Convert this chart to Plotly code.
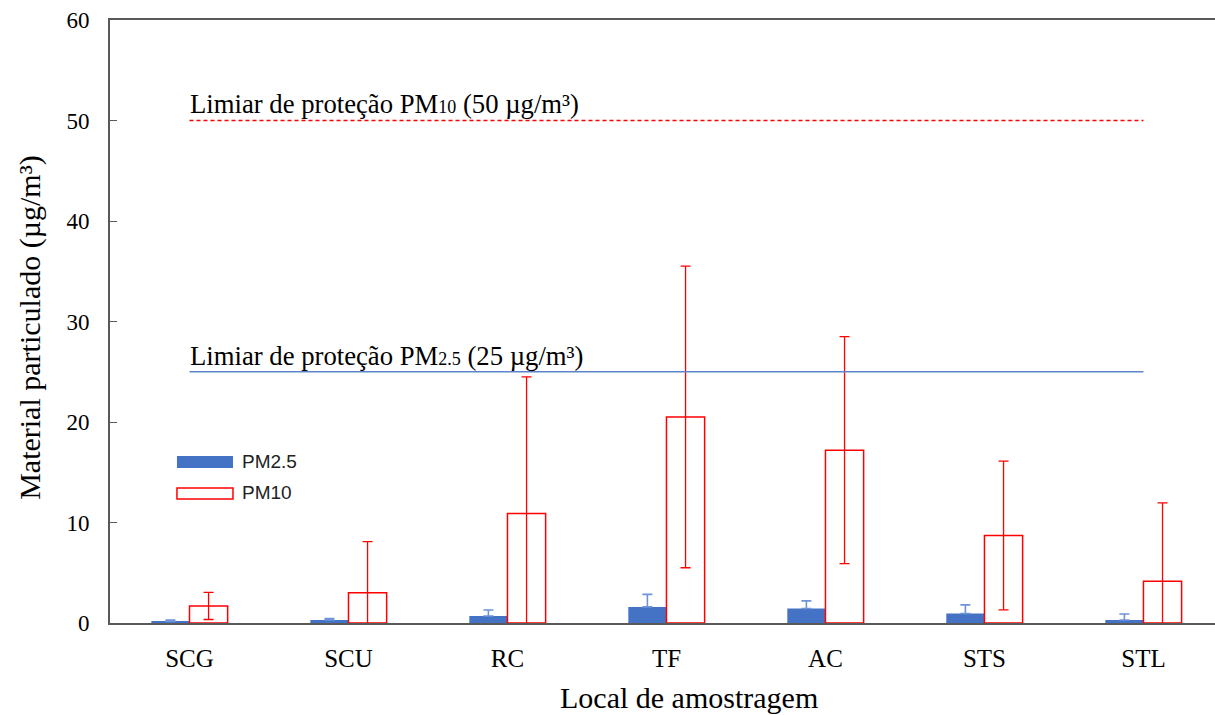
import plotly.graph_objects as go

# ---- data ----
sites = ["SCG", "SCU", "RC", "TF", "AC", "STS", "STL"]
pm25_mean = [0.15, 0.3, 0.7, 1.6, 1.45, 0.95, 0.3]
pm25_sd = [0.15, 0.15, 0.6, 1.25, 0.75, 0.85, 0.6]
pm10_mean = [1.7, 3.0, 10.9, 20.5, 17.2, 8.7, 4.15]
pm10_sd = [1.35, 5.1, 13.6, 15.0, 11.3, 7.4, 7.8]
limit_pm10 = 50
limit_pm25 = 25
y_ticks = [0, 10, 20, 30, 40, 50, 60]

BLUE = "#4472C4"
RED = "#FF0000"
AXIS = "#595959"
SERIF = "Liberation Serif, Times New Roman, serif"
SANS = "Liberation Sans, Arial, sans-serif"

fig = go.Figure()

fig.add_trace(go.Bar(
    x=sites, y=pm25_mean, name="PM2.5",
    marker=dict(color=BLUE, line=dict(color=BLUE, width=0)),
    error_y=dict(type="data", array=pm25_sd, arrayminus=[0] * len(pm25_sd),
                 symmetric=False, visible=True,
                 color="#6F94D6", thickness=1.6, width=5),
    showlegend=False,
))
fig.add_trace(go.Bar(
    x=sites, y=pm10_mean, name="PM10",
    marker=dict(color="white", line=dict(color=RED, width=1.5)),
    error_y=dict(type="data", array=pm10_sd, visible=True,
                 color=RED, thickness=1.3, width=5),
    showlegend=False,
))

# threshold lines
fig.add_trace(go.Scatter(
    x=[sites[0], sites[-1]], y=[limit_pm10, limit_pm10], mode="lines",
    line=dict(color=RED, width=1.3, dash="4px,3px"), showlegend=False,
    hoverinfo="skip",
))
fig.add_trace(go.Scatter(
    x=[sites[0], sites[-1]], y=[limit_pm25, limit_pm25], mode="lines",
    line=dict(color="#5B84C9", width=1.3), showlegend=False,
    hoverinfo="skip",
))

fig.add_annotation(
    x=sites[0], y=limit_pm10, xref="x", yref="y", xanchor="left", yanchor="bottom",
    text="Limiar de proteção PM<span style='font-size:18px'>10</span> (50 µg/m³)",
    showarrow=False, font=dict(family=SERIF, size=26.7, color="#000000"), xshift=-2, yshift=-1,
)
fig.add_annotation(
    x=sites[0], y=limit_pm25, xref="x", yref="y", xanchor="left", yanchor="bottom",
    text="Limiar de proteção PM<span style='font-size:18px'>2.5</span> (25 µg/m³)",
    showarrow=False, font=dict(family=SERIF, size=26.7, color="#000000"), xshift=-2, yshift=-1,
)

# custom legend keys
fig.add_shape(type="rect", xref="paper", yref="paper",
              x0=0.0606, x1=0.1113, y0=0.257, y1=0.277,
              fillcolor=BLUE, line=dict(width=0))
fig.add_shape(type="rect", xref="paper", yref="paper",
              x0=0.0606, x1=0.1113, y0=0.2056, y1=0.2239,
              fillcolor="white", line=dict(color=RED, width=1.5))
fig.add_annotation(x=0.1175, y=0.267, xref="paper", yref="paper", xanchor="left",
                   yanchor="middle", text="PM2.5", showarrow=False,
                   font=dict(family=SANS, size=19, color="#222222"))
fig.add_annotation(x=0.1175, y=0.2156, xref="paper", yref="paper", xanchor="left",
                   yanchor="middle", text="PM10", showarrow=False,
                   font=dict(family=SANS, size=19, color="#222222"))

# x-axis title (placed as annotation, offset like the reference)
fig.add_annotation(x=0.524, y=-0.124, xref="paper", yref="paper", xanchor="center",
                   yanchor="middle", text="Local de amostragem", showarrow=False,
                   font=dict(family=SERIF, size=30, color="#000000"))
# y-axis title
fig.add_annotation(x=-0.073, y=0.49, xref="paper", yref="paper", xanchor="center",
                   yanchor="middle", text="Material particulado (µg/m³)", showarrow=False,
                   textangle=-90, font=dict(family=SERIF, size=30, color="#000000"))

fig.update_layout(
    width=1215, height=715,
    margin=dict(l=110, r=0, t=20, b=92),
    paper_bgcolor="white", plot_bgcolor="white",
    barmode="group", bargap=0.52, bargroupgap=0,
    font=dict(family=SERIF, color="#000000"),
    xaxis=dict(
        range=[-0.5, 6.45], showline=True, linecolor=AXIS, linewidth=1.6,
        mirror=True, ticks="", showgrid=False, zeroline=False,
        tickfont=dict(family=SERIF, size=25, color="#000000"),
        ticklabelstandoff=12,
    ),
    yaxis=dict(
        range=[0, 60], tickvals=y_ticks, showline=True, linecolor=AXIS,
        linewidth=1.6, ticks="inside", ticklen=7, tickcolor=AXIS, tickwidth=1.3,
        showgrid=False, zeroline=False,
        tickfont=dict(family=SERIF, size=23, color="#000000"),
        ticklabelstandoff=14,
    ),
)

fig.write_html("out.html")
